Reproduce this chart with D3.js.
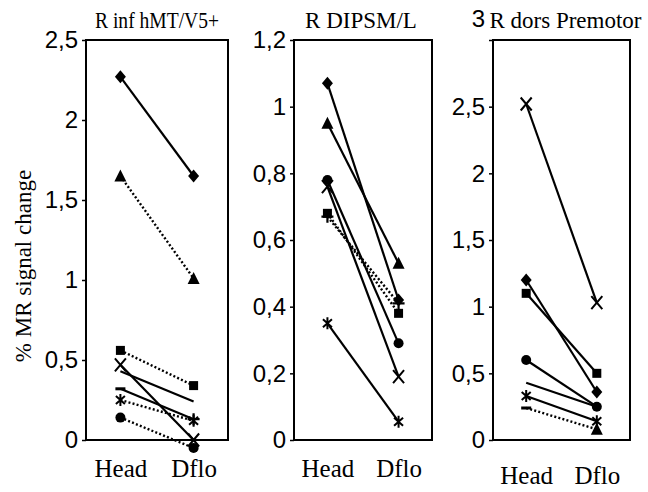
<!DOCTYPE html>
<html>
<head>
<meta charset="utf-8">
<script src="https://cdn.jsdelivr.net/npm/d3@7"></script>
<style>
  html, body { margin: 0; padding: 0; background: #fff; }
  svg { display: block; }
</style>
</head>
<body>
<svg id="chart" width="648" height="492"></svg>
<script>
// Conditions on the x axis of every panel
const conditions = ["Head", "Dflo"];

// Panel titles and y-axis tick values
const panelTitles = ["R inf hMT/V5+", "R DIPSM/L", "R dors Premotor"];
const hmtTicks = [0, 0.5, 1, 1.5, 2, 2.5];
const dipTicks = [0, 0.2, 0.4, 0.6, 0.8, 1, 1.2];
const pmTicks = [0, 0.5, 1, 1.5, 2, 2.5, 3];

// R inf hMT/V5+ : one subject per row (Head, Dflo)
const hmtHead = [2.27, 1.65, 0.56, 0.47, 0.43, 0.32, 0.25, 0.14];
const hmtDflo = [1.65, 1.01, 0.34, 0.0, 0.24, 0.13, 0.12, -0.05];
const hmtHeadMarks = ["diamond", "triangle", "square", "x", "none", "dash", "asterisk", "circle"];
const hmtDfloMarks = ["diamond", "triangle", "square", "x", "none", "plus", "asterisk", "circle"];
const hmtDotted = [false, true, true, false, false, false, true, true];

// R DIPSM/L
const dipHead = [1.07, 0.95, 0.78, 0.76, 0.68, 0.67, 0.35];
const dipDflo = [0.42, 0.53, 0.29, 0.19, 0.38, 0.41, 0.055];
const dipHeadMarks = ["diamond", "triangle", "circle", "x", "square", "plus", "asterisk"];
const dipDfloMarks = ["diamond", "triangle", "circle", "x", "square", "plus", "asterisk"];
const dipDotted = [false, false, false, false, true, true, false];

// R dors Premotor
const pmHead = [2.52, 1.2, 1.1, 0.6, 0.43, 0.33, 0.24];
const pmDflo = [1.03, 0.36, 0.5, 0.25, 0.25, 0.14, 0.08];
const pmHeadMarks = ["x", "diamond", "square", "circle", "none", "asterisk", "dash"];
const pmDfloMarks = ["x", "diamond", "square", "circle", "none", "asterisk", "triangle"];
const pmDotted = [false, false, false, false, false, false, true];

const panels = [
  { title: panelTitles[0], ticks: hmtTicks, head: hmtHead, dflo: hmtDflo,
    headMarks: hmtHeadMarks, dfloMarks: hmtDfloMarks, dotted: hmtDotted,
    left: 86, right: 228, labelShift: 0, titleWidth: 124, titleDx: 0 },
  { title: panelTitles[1], ticks: dipTicks, head: dipHead, dflo: dipDflo,
    headMarks: dipHeadMarks, dfloMarks: dipDfloMarks, dotted: dipDotted,
    left: 294, right: 432, labelShift: 0, titleWidth: null, titleDx: -2 },
  { title: panelTitles[2], ticks: pmTicks, head: pmHead, dflo: pmDflo,
    headMarks: pmHeadMarks, dfloMarks: pmDfloMarks, dotted: pmDotted,
    left: 493, right: 630, labelShift: 7, titleWidth: null, titleDx: 4 }
];

const plotTop = 40, plotBottom = 440;
const locale = d3.formatLocale({ decimal: ",", thousands: ".", grouping: [3], currency: ["", ""] });
const fmt = locale.format(".1~f");

const svg = d3.select("#chart");

// Marker shapes, centred on 0,0
function drawMarker(g, type) {
  const s = 5.5;
  switch (type) {
    case "diamond":
      g.append("path").attr("d", `M0,${-s - 1}L${s},0L0,${s + 1}L${-s},0Z`).attr("fill", "#000");
      break;
    case "square":
      g.append("rect").attr("x", -4.5).attr("y", -4.5).attr("width", 9).attr("height", 9).attr("fill", "#000");
      break;
    case "triangle":
      g.append("path").attr("d", `M0,${-s - 1}L${s + 0.5},${s}L${-s - 0.5},${s}Z`).attr("fill", "#000");
      break;
    case "circle":
      g.append("circle").attr("r", 5).attr("fill", "#000");
      break;
    case "x":
      g.append("path").attr("d", `M${-s},${-s - 1}L${s},${s + 1}M${s},${-s - 1}L${-s},${s + 1}`)
        .attr("stroke", "#000").attr("stroke-width", 2).attr("fill", "none");
      break;
    case "asterisk":
      g.append("path").attr("d", `M-4.5,-4L4.5,4M4.5,-4L-4.5,4M0,-6L0,6`)
        .attr("stroke", "#000").attr("stroke-width", 2).attr("fill", "none");
      break;
    case "plus":
      g.append("path").attr("d", `M-6,0L6,0M0,-6L0,6`)
        .attr("stroke", "#000").attr("stroke-width", 2.2).attr("fill", "none");
      break;
    case "dash":
      g.append("rect").attr("x", -5).attr("y", -1.5).attr("width", 10).attr("height", 3).attr("fill", "#000");
      break;
    default:
      break;
  }
}

panels.forEach(p => {
  const g = svg.append("g");
  const ymax = p.ticks[p.ticks.length - 1];
  const y = d3.scaleLinear().domain([0, ymax]).range([plotBottom, plotTop]);
  const x = d3.scalePoint().domain(conditions).range([p.left, p.right]).padding(0.47);

  // Panel title
  const title = g.append("text")
    .attr("x", (p.left + p.right) / 2 + p.titleDx)
    .attr("y", 28)
    .attr("text-anchor", "middle")
    .attr("font-family", "'Liberation Serif', 'Times New Roman', serif")
    .attr("font-size", 23)
    .text(p.title);
  if (p.titleWidth) {
    title.attr("textLength", p.titleWidth).attr("lengthAdjust", "spacingAndGlyphs");
  }

  // Y axis ticks and labels
  const yAxis = g.append("g")
    .attr("transform", `translate(${p.left},0)`)
    .call(d3.axisLeft(y).tickValues(p.ticks).tickFormat(fmt).tickSize(4).tickPadding(4));
  yAxis.select(".domain").remove();
  yAxis.selectAll(".tick line").attr("stroke", "#000").attr("stroke-width", 1.5);
  yAxis.selectAll(".tick text")
    .attr("font-family", "'Liberation Sans', Arial, sans-serif")
    .attr("font-size", 24)
    .attr("fill", "#000");
  // top label of the premotor axis sits higher than its tick
  if (p.labelShift) {
    yAxis.selectAll(".tick text").filter(d => d === ymax).attr("dy", "-0.55em");
  }

  // X axis category labels
  const xAxis = g.append("g")
    .attr("transform", `translate(0,${plotBottom})`)
    .call(d3.axisBottom(x).tickSize(0).tickPadding(19 + p.labelShift));
  xAxis.select(".domain").remove();
  xAxis.selectAll(".tick text")
    .attr("font-family", "'Liberation Serif', 'Times New Roman', serif")
    .attr("font-size", 25)
    .attr("fill", "#000");

  // Plot frame
  g.append("rect")
    .attr("x", p.left).attr("y", plotTop)
    .attr("width", p.right - p.left).attr("height", plotBottom - plotTop)
    .attr("fill", "none").attr("stroke", "#000").attr("stroke-width", 2);

  // Subject lines
  const rows = p.head.map((h, i) => ({
    vals: [h, p.dflo[i]],
    marks: [p.headMarks[i], p.dfloMarks[i]],
    dotted: p.dotted[i]
  }));
  const line = d3.line().x((d, j) => x(conditions[j])).y(d => y(d));
  g.selectAll("path.subject").data(rows).join("path")
    .attr("class", "subject")
    .attr("d", d => line(d.vals))
    .attr("fill", "none")
    .attr("stroke", "#000")
    .attr("stroke-width", d => d.dotted ? 2.4 : 2.2)
    .attr("stroke-dasharray", d => d.dotted ? "2,2.2" : null);

  rows.forEach(r => {
    r.vals.forEach((v, j) => {
      const m = g.append("g").attr("transform", `translate(${x(conditions[j])},${y(v)})`);
      drawMarker(m, r.marks[j]);
    });
  });
});

// Shared y-axis title
svg.append("text")
  .attr("transform", "translate(31,266) rotate(-90)")
  .attr("text-anchor", "middle")
  .attr("font-family", "'Liberation Serif', 'Times New Roman', serif")
  .attr("font-size", 23)
  .text("% MR signal change");
</script>
</body>
</html>
